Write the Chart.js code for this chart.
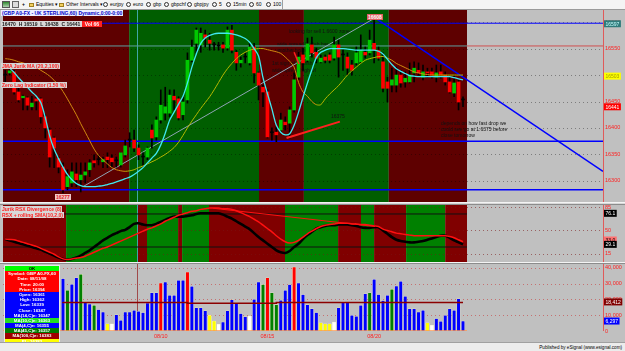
<!DOCTYPE html>
<html>
<head>
<meta charset="utf-8">
<script src="https://cdn.jsdelivr.net/npm/chart.js@4.4.1/dist/chart.umd.min.js"></script>
<style>
html,body{margin:0;padding:0;}
body{width:625px;height:351px;overflow:hidden;background:#c0c0c0;position:relative;font-family:"Liberation Sans",Arial,sans-serif;}
canvas{position:absolute;display:block;}
.a{position:absolute;white-space:nowrap;}
#tb{left:0;top:0;width:625px;height:10px;background:#f4f4f4;border-bottom:1px solid #9a9a9a;box-sizing:border-box;}
#tb span{position:absolute;top:0;font-size:5px;line-height:9px;color:#000;}
#tb i{position:absolute;display:block;box-sizing:border-box;}
#tb i.c{top:2px;width:5px;height:5px;border:1px solid #333;border-radius:50%;}
#tb i.f{top:2.5px;width:5px;height:4px;background:#f2d060;border:1px solid #a08020;}
.sep{left:0;width:625px;background:#d8d8d8;border-top:1px solid #f4f4f4;border-bottom:1px solid #8c8c8c;box-sizing:border-box;}
.lbl{font-size:5px;line-height:6px;padding:0 1px;font-weight:bold;}
#info{left:4px;top:265px;width:54px;border:1px solid #e8e8e8;background:#c0c0c0;}
#info div{height:5.2px;line-height:5.2px;font-size:4.4px;font-weight:bold;text-align:center;color:#fff;overflow:hidden;}
#foot{left:0;top:342px;width:625px;height:9px;background:#ececec;border-top:1px solid #a0a0a0;box-sizing:border-box;}
</style>
</head>
<body>
<div id="tb" class="a">
  <i style="left:2px;top:1px;width:8px;height:7px;background:linear-gradient(#2f8a2f,#b0d0b0);border:1px solid #555;"></i>
  <i style="left:12px;top:1px;width:7px;height:7px;border:1px solid #666;background:#ddd;"></i>
  <span style="left:22px;font-weight:bold;">+</span>
  <i class="f" style="left:29px;"></i><span style="left:36px;">Equities ▾</span>
  <i class="f" style="left:59px;"></i><span style="left:66px;">Other Intervals ▾</span>
  <i class="c" style="left:103px;"></i><span style="left:110px;">eurjpy</span>
  <i class="c" style="left:126px;"></i><span style="left:133px;">euro</span>
  <i class="c" style="left:146px;"></i><span style="left:153px;">gbp</span>
  <i class="c" style="left:164px;"></i><span style="left:171px;">gbpchf</span>
  <i class="c" style="left:187px;"></i><span style="left:194px;">gbpjpy</span>
  <i class="c" style="left:212px;"></i><span style="left:219px;">5</span>
  <i class="c" style="left:226px;"></i><span style="left:233px;">15min</span>
  <i class="c" style="left:249px;"></i><span style="left:256px;">60</span>
  <i class="c" style="left:266px;"></i><span style="left:273px;">100</span>
  <i style="left:282px;top:0;width:1px;height:9px;background:#a0a0a0;"></i>
</div>

<canvas id="cPrice" width="622" height="192" style="left:3px;top:10px;"></canvas>
<div class="a sep" style="top:202px;height:3px;"></div>
<canvas id="cRsx" width="622" height="57" style="left:3px;top:205px;"></canvas>
<div class="a sep" style="top:262px;height:2px;"></div>
<canvas id="cVol" width="622" height="78" style="left:3px;top:264px;"></canvas>

<div class="a lbl" style="left:1px;top:10px;color:#0000c8;background:#eef0ff;">(GBP A0-FX - UK STERLING,60) Dynamic,0:00-0:00</div>
<div class="a lbl" style="left:1px;top:21px;color:#202020;background:#d8d8d8;padding-right:0;">16470&nbsp; H 16519&nbsp; L 16438&nbsp; C 16441 <span style="background:#ff2020;color:#fff;padding:0 3px;">Vol 66</span></div>
<div class="a lbl" style="left:1px;top:63px;color:#ff2020;background:#d4d4d4;">JMA Jurik MA (20,2,100)</div>
<div class="a lbl" style="left:1px;top:82px;color:#ff2020;background:#d4d4d4;">Zero Lag Indicator (1.50 %)</div>
<div class="a lbl" style="left:367px;top:14px;color:#fff;background:#e06060;">16608</div>
<div class="a lbl" style="left:55px;top:194px;color:#e02020;background:#f0c8c8;">16277</div>
<div class="a lbl" style="left:1px;top:206px;color:#ff2020;background:#d8d8d8;">Jurik RSX Divergence (8)</div>
<div class="a lbl" style="left:1px;top:212px;color:#ff2020;background:#d8d8d8;">RSX + rolling SMA(10,2,0)</div>

<div id="info" class="a"></div>
<div id="foot" class="a"><span class="a" style="right:3px;top:1px;font-size:4.6px;line-height:7px;color:#000;">Published by eSignal (www.esignal.com)</span></div>

<script>
// ---------------- DATA ----------------
const priceTicks = [16300, 16350, 16400, 16450, 16500, 16550, 16600];
const rsxTicks = [15, 50, 85];
const volTicks = [0, 10000, 20000, 30000, 40000];
const dateTickIdx = [35, 59, 83];
const dateLabels = ['08/10', '08/15', '08/20'];

const openP = [16500,16504,16506,16468,16457,16457,16440,16455,16455,16421,
16396,16381,16342,16326,16289,16296,16313,16302,16311,16321,
16338,16340,16336,16345,16343,16338,16330,16349,16377,16377,
16362,16345,16345,16396,16383,16415,16428,16428,16460,16455,
16425,16453,16528,16560,16557,16576,16566,16557,16555,16557,
16551,16585,16543,16523,16534,16523,16553,16504,16477,16468,
16391,16392,16396,16411,16409,16434,16496,16538,16528,16557,
16543,16525,16534,16538,16532,16557,16538,16534,16519,16523,
16525,16543,16542,16560,16547,16525,16487,16481,16481,16500,
16487,16487,16504,16509,16496,16506,16506,16496,16506,16500,
16487,16466,16487,16453];
const highP = [16509,16515,16509,16481,16462,16459,16460,16459,16457,16425,
16400,16383,16345,16334,16321,16334,16334,16334,16334,16340,
16349,16349,16345,16353,16349,16345,16353,16377,16391,16396,
16368,16353,16364,16406,16421,16472,16477,16472,16472,16459,
16459,16542,16566,16589,16589,16585,16579,16562,16562,16562,
16591,16594,16547,16534,16542,16560,16560,16506,16481,16472,
16400,16402,16428,16421,16440,16504,16543,16551,16570,16572,
16551,16538,16538,16542,16572,16566,16547,16542,16528,16553,
16576,16553,16585,16608,16553,16542,16496,16513,16515,16509,
16506,16523,16525,16523,16519,16513,16513,16519,16519,16506,
16496,16500,16491,16459];
const lowP = [16485,16500,16464,16449,16434,16434,16434,16434,16409,16381,
16326,16325,16315,16277,16283,16289,16289,16279,16296,16308,
16326,16330,16325,16325,16325,16326,16326,16345,16364,16355,
16340,16326,16340,16362,16377,16409,16415,16421,16434,16415,
16415,16447,16525,16542,16543,16553,16547,16547,16547,16543,
16547,16542,16509,16515,16523,16519,16485,16453,16440,16381,
16377,16374,16391,16396,16381,16430,16491,16509,16525,16534,
16523,16523,16523,16523,16528,16496,16509,16500,16500,16519,
16523,16532,16538,16523,16528,16468,16449,16468,16468,16477,
16477,16485,16487,16500,16491,16496,16494,16487,16494,16481,
16466,16459,16434,16440];
const closeP = [16500,16508,16468,16453,16460,16443,16447,16451,16421,16400,
16345,16362,16326,16283,16308,16317,16302,16311,16317,16334,
16334,16340,16340,16340,16336,16338,16353,16366,16377,16362,
16349,16345,16362,16381,16415,16443,16440,16462,16453,16419,
16449,16528,16553,16585,16579,16570,16560,16557,16555,16551,
16585,16547,16523,16528,16534,16553,16504,16481,16468,16383,
16391,16387,16415,16406,16434,16491,16534,16523,16559,16542,
16532,16532,16528,16528,16557,16534,16538,16513,16509,16542,
16547,16538,16566,16547,16532,16475,16475,16491,16500,16485,
16494,16500,16513,16504,16506,16504,16500,16504,16500,16487,
16468,16485,16449,16453];

const jmaMA = [16517,16513,16505,16495,16486,16477,16468,16460,16448,16420,
16385,16360,16342,16326,16312,16302,16295,16291,16289,16289,
16289,16290,16291,16293,16295,16298,16301,16304,16307,16312,
16318,16325,16334,16343,16352,16368,16390,16415,16430,16445,
16460,16485,16515,16540,16560,16570,16575,16578,16579,16579,
16579,16578,16576,16573,16569,16562,16550,16536,16495,16465,
16436,16405,16392,16387,16389,16405,16430,16458,16485,16510,
16533,16543,16547,16550,16550,16550,16550,16549,16548,16547,
16547,16547,16547,16547,16545,16540,16530,16520,16512,16507,
16503,16499,16498,16497,16497,16497,16497,16497,16497,16497,
16497,16495,16493,16491];
const zeroLagMA = [16531,16530,16528,16525,16523,16520,16517,16514,16509,16504,
16498,16490,16481,16469,16455,16440,16425,16408,16392,16376,
16360,16348,16340,16332,16325,16321,16319,16318,16319,16321,
16325,16328,16332,16336,16340,16345,16350,16356,16363,16373,
16386,16400,16413,16425,16437,16448,16459,16472,16486,16500,
16512,16522,16531,16538,16543,16547,16549,16550,16550,16548,
16546,16544,16541,16534,16526,16515,16486,16468,16460,16450,
16444,16444,16455,16464,16472,16480,16490,16500,16508,16515,
16522,16528,16531,16533,16535,16535,16532,16528,16522,16518,
16514,16510,16506,16504,16502,16501,16500,16500,16500,16500,
16500,16500,16500,16500];

const hLevelTop = 16598, hLevelTeal = 16555, hLevelMid = 16375, hLevelLow = 16283;
const trendUp = [[17.5, 16289], [83.2, 16608]];
const trendDown = [[83.2, 16608], [134.5, 16318]];
const arrowLong = [[63.3, 16381], [75.3, 16412]];
const arrowShort = [[65.0, 16543], [66.1, 16521]];

const rsxLine = [37,35,33,31,29,27,25,23,21,18,
15,12,9,7,6,7,9,12,16,20,
25,30,35,39,43,46,49,51,55,60,
61,59,58,58,60,63,66,69,71,71,
71,72,73,75,76,76,76,76,76,74,
71,68,64,60,56,52,46,40,35,30,
25,20,17,16,19,25,30,37,43,48,
53,55,57,58,58,59,59,59,58,57,
55,54,54,55,55,50,45,40,36,34,
33,32,32,33,34,36,38,40,42,42,
39,35,32,29];
const rsxSMA = [37,36.5,36,34,32,30,28,26,23,20,
17,14,10,7,6,7,8,9,11,14,
17,20,23,25,28,31,34,37,40,43,
46,49,52,54,57,60,64,67,70,73,
75,77,79,80,82,83,84,84,84,83,
83,82,80,77,74,71,67,63,58,53,
48,42,37,33,31,32,35,40,45,49,
53,56,58,59,60,61,61,61,60,60,
59,59,58,57,56,52,50,48,46,45,
44,43,42,42,42,42,42,42,42,42,
41,39,36,33];
const rsxDivergence = [[46.8, 83.7], [83.2, 56]];
const rsxLevels = [25, 75];

const volume = [null,null,null,null,null,null,null,null,null,null,
null,null,null,33100,25800,29600,33700,35900,18400,17000,
16300,13500,12000,4600,4600,10300,6800,12000,12000,13100,
12500,11600,17700,24100,24100,30400,31000,22600,22600,32100,
32100,37300,28300,14600,14700,12700,9900,6300,4200,5700,
12700,19800,17900,11000,8900,9500,20100,31000,29300,33700,
24100,16600,19400,25800,29300,40500,30400,23000,16600,14100,
11600,5100,4600,4600,5700,14700,18400,17900,9900,9300,
16300,23600,24200,32700,23000,19200,22600,26400,28500,31500,
22000,14100,14100,12000,13100,5100,3600,7800,6100,9900,
14100,13100,20400,6300];
// one letter per bar, bars 13..103 (b blue, g green, r red, y yellow, w white)
const volColorFirst = 13;
const volColor = ('bgbbgbbgbb' + 'ywbbbbbbbb' + 'bbrbbbbbrb' + 'bbbyywbbbb' + 'bbwbbgrggb' +
                  'bbrbbbbbyy' + 'ywbbbbbbbg' + 'bbbbgbbbbb' + 'bbywbbbbbbb').split('');
const volMAIdx = [13, 41, 61, 81, 103];
const volMAVal = [18400, 18000, 17600, 18000, 18000];

const mainBandEdges = [-0.5, 27.9, 57.1, 67.2, 86.3, 103.9];
const rsxBandEdges = [-0.5, 13.7, 29.65, 31.9, 38.9, 39.8, 45.85, 62.95, 74.9, 80.05, 83.0, 90.2, 99.0, 103.9];
const cursorIdx = 29.65;

const infoRows = [
 ['OK','#00ff00','#000'],['Symbol: GBP A0-FX,60','#ff0000','#fff'],['Date: 08/11/08','#ff0000','#fff'],
 ['Time: 20:00','#ff0000','#fff'],['Price: 16394','#ff0000','#fff'],['Open: 16361','#0000ff','#fff'],
 ['High: 16362','#0000ff','#fff'],['Low: 16339','#0000ff','#fff'],['Close: 16347','#0000ff','#fff'],
 ['MA(14,C)e: 16347','#0000ff','#fff'],['MA(10,C)e: 16363','#22dd22','#fff'],['MA(4,C)e: 16355','#0000ff','#fff'],
 ['MA(45,C)e: 16357','#007a00','#fff'],['MA(100,C)e: 16383','#a00000','#fff'],['PL: 16383','#ffff00','#fff']
];

// ---------------- HELPERS ----------------
document.getElementById('info').innerHTML = infoRows.map(r =>
  `<div style="background:${r[1]};color:${r[2]}">${r[0]}</div>`).join('');

Chart.defaults.font.family = '"Liberation Sans", Arial, sans-serif';
const pts = arr => arr.map((v, i) => ({x: i, y: v})).filter(p => p.y != null);
const seg = arr => arr.map(([x, y]) => ({x, y}));
const hline = (v, a, b) => [{x: a, y: v}, {x: b, y: v}];
const lineDs = (data, color, width, order, extra) => Object.assign({
  type: 'line', data, borderColor: color, borderWidth: width, pointRadius: 0,
  fill: false, tension: 0, order
}, extra || {});

function panelPlugin(o) {
  return {
    id: 'panel' + o.name,
    beforeDatasetsDraw(chart) {
      const {ctx, chartArea: a, scales: {x, y}} = chart;
      ctx.save();
      ctx.fillStyle = '#c0c0c0';
      ctx.fillRect(a.left, a.top, a.width, a.height);
      if (o.edges) for (let k = 0; k < o.edges.length - 1; k++) {
        const x1 = x.getPixelForValue(o.edges[k]), x2 = x.getPixelForValue(o.edges[k + 1]);
        ctx.fillStyle = o.colors[k % 2];
        ctx.fillRect(x1, a.top, x2 - x1, a.height);
      }
      ctx.strokeStyle = o.grid; ctx.lineWidth = 1; ctx.setLineDash([1, 3]);
      o.ticks.forEach(v => {
        const yy = Math.round(y.getPixelForValue(v)) + 0.5;
        ctx.beginPath(); ctx.moveTo(a.left, yy); ctx.lineTo(a.right, yy); ctx.stroke();
      });
      ctx.setLineDash([]);
      const cx = Math.round(x.getPixelForValue(cursorIdx)) + 0.5;
      ctx.strokeStyle = o.cursor;
      ctx.beginPath(); ctx.moveTo(cx, a.top); ctx.lineTo(cx, a.bottom); ctx.stroke();
      (o.notes || []).forEach(n => {
        ctx.font = '5px "Liberation Sans", Arial'; ctx.fillStyle = n.c || '#111'; ctx.textBaseline = 'top';
        ctx.fillText(n.t, n.x - 3, n.y - o.top);
      });
      ctx.restore();
    },
    afterDraw(chart) {
      const {ctx, chartArea: a, scales: {y}} = chart;
      ctx.save();
      ctx.strokeStyle = '#e05a5a'; ctx.lineWidth = 1;
      ctx.beginPath(); ctx.moveTo(a.right + 0.5, a.top); ctx.lineTo(a.right + 0.5, a.bottom); ctx.stroke();
      ctx.font = '5px "Liberation Sans", Arial'; ctx.textBaseline = 'middle';
      (o.boxes || []).forEach(b => {
        const yy = y.getPixelForValue(b.v), w = ctx.measureText(b.t).width + 3;
        ctx.fillStyle = b.bg; ctx.fillRect(a.right + 1, yy - 3.5, w, 7);
        ctx.fillStyle = b.fg; ctx.fillText(b.t, a.right + 2.5, yy + 0.5);
      });
      ctx.restore();
    }
  };
}

const xHidden = {type: 'linear', min: -0.5, max: 134.5, display: false, offset: false};
function yAxis(min, max, ticks, fmt) {
  return {
    position: 'right', min, max,
    afterBuildTicks: s => { s.ticks = ticks.map(v => ({value: v})); },
    afterFit: s => { s.width = 22; s.paddingTop = 0; s.paddingBottom = 0; },
    grid: {display: false, drawTicks: false}, border: {display: false},
    ticks: {color: '#ff2020', font: {size: 5.5}, padding: 2, callback: fmt}
  };
}
const baseOpts = {
  responsive: false, animation: false, devicePixelRatio: 1,
  layout: {padding: 0, autoPadding: false},
  plugins: {legend: {display: false}, tooltip: {enabled: false}}
};

// ---------------- PRICE PANEL ----------------
const bodyColors = openP.map((o, i) => closeP[i] > o ? '#00c800' : (closeP[i] < o ? '#ff0000' : '#000000'));
new Chart(document.getElementById('cPrice'), {
  type: 'bar',
  data: {datasets: [
    lineDs(seg(arrowLong), '#ff2020', 2, 0),
    lineDs(seg(arrowShort), '#ff2020', 1.5, 0),
    lineDs(pts(jmaMA), '#40e8f0', 1.3, 1, {tension: 0.3}),
    lineDs(pts(zeroLagMA), '#d08a10', 1, 1, {tension: 0.3, segment: {
      borderColor: c => c.p1.parsed.y >= c.p0.parsed.y ? '#b4b800' : '#d08a10'}}),
    {type: 'bar', data: openP.map((o, i) => ({x: i, y: [o, closeP[i]]})), backgroundColor: bodyColors,
     barThickness: 3, minBarLength: 1, grouped: false, order: 2},
    {type: 'bar', data: lowP.map((l, i) => ({x: i, y: [l, highP[i]]})), backgroundColor: '#000',
     barThickness: 1, grouped: false, order: 3},
    lineDs(seg(trendUp), '#8ea4b4', 1, 4),
    lineDs(seg(trendDown), '#0000ff', 1.5, 4),
    lineDs(hline(hLevelTop, -0.5, 134.5), '#0000ff', 1, 5),
    lineDs(hline(hLevelTeal, -0.5, 103.9), '#5f9f9f', 1, 5),
    lineDs(hline(hLevelTeal, 103.9, 134.5), '#d05050', 1, 5),
    lineDs(hline(hLevelMid, -0.5, 134.5), '#0000ff', 1.5, 5),
    lineDs(hline(hLevelLow, -0.5, 134.5), '#0000ff', 1.5, 5)
  ]},
  options: Object.assign({}, baseOpts, {scales: {
    x: xHidden,
    y: yAxis(16260, 16623, priceTicks, v => String(v))
  }}),
  plugins: [panelPlugin({
    name: 'p', top: 10, edges: mainBandEdges, colors: ['#5e0000', '#005e00'],
    ticks: priceTicks, grid: 'rgba(0,0,0,0.35)', cursor: '#3fa6a6',
    notes: [
      {t: 'looking for sell 1.6600 zone', x: 289, y: 29},
      {t: 'wide spread bullish bar', x: 277, y: 42},
      {t: 'another bullish bar', x: 277, y: 48},
      {t: '1st sign of bearish', x: 272, y: 61},
      {t: 'wide spread high lvl', x: 272, y: 68},
      {t: '16375', x: 331, y: 114},
      {t: 'depends on how fast drop we', x: 441, y: 121},
      {t: 'could see go at 1.6375 before', x: 441, y: 127},
      {t: 'close tomorrow', x: 441, y: 133}
    ],
    boxes: [
      {v: 16597, t: '16597', bg: '#2e7b7b', fg: '#c8ffff'},
      {v: 16498, t: '16503', bg: '#ffff00', fg: '#a0a000'},
      {v: 16440, t: '16441', bg: '#ff0000', fg: '#ffffff'}
    ]
  })]
});

// ---------------- RSX PANEL ----------------
new Chart(document.getElementById('cRsx'), {
  type: 'line',
  data: {datasets: [
    lineDs(pts(rsxSMA), '#ff1010', 1.5, 0, {tension: 0.3}),
    lineDs(seg(rsxDivergence), '#ff1010', 1, 0),
    lineDs(pts(rsxLine), '#000000', 2.6, 1, {tension: 0.3}),
    lineDs(hline(rsxLevels[0], -0.5, 103.9), '#101010', 1, 2),
    lineDs(hline(rsxLevels[1], -0.5, 103.9), '#101010', 1, 2)
  ]},
  options: Object.assign({}, baseOpts, {scales: {
    x: xHidden,
    y: yAxis(2.3, 88.6, rsxTicks, v => String(v))
  }}),
  plugins: [panelPlugin({
    name: 'r', top: 205, edges: rsxBandEdges, colors: ['#800000', '#008000'],
    ticks: rsxTicks, grid: 'rgba(120,20,20,0.55)', cursor: '#3fa6a6',
    boxes: [
      {v: 76, t: '76.1', bg: '#000', fg: '#fff'},
      {v: 35.6, t: '33.0', bg: '#ff7070', fg: '#000'},
      {v: 29, t: '29.1', bg: '#000', fg: '#fff'}
    ]
  })]
});

// ---------------- VOLUME PANEL ----------------
const volPalette = {b: '#0000ff', g: '#008000', r: '#ff0000', y: '#ffff00', w: '#ffffff'};
const volColors = volume.map((v, i) => volPalette[volColor[i - volColorFirst]] || '#0000ff');
new Chart(document.getElementById('cVol'), {
  type: 'bar',
  data: {datasets: [
    lineDs(hline(0, -0.5, 103.9), '#ff9a50', 1.5, 0),
    lineDs(volMAIdx.map((x, k) => ({x, y: volMAVal[k]})), '#8b0000', 1.5, 0, {stepped: 'after'}),
    {type: 'bar', data: volume.map((v, i) => ({x: i, y: v})), backgroundColor: volColors,
     borderColor: 'rgba(255,255,210,0.8)', borderWidth: 0.5, barThickness: 3.4, grouped: false, order: 1}
  ]},
  options: Object.assign({}, baseOpts, {scales: {
    x: {
      type: 'linear', min: -0.5, max: 134.5, offset: false, position: 'bottom',
      afterBuildTicks: s => { s.ticks = dateTickIdx.map(v => ({value: v})); },
      afterFit: s => { s.height = 11; s.paddingLeft = 0; s.paddingRight = 0; },
      grid: {display: false, drawTicks: false}, border: {display: false},
      ticks: {color: '#ff2020', font: {size: 5.5}, padding: 2, autoSkip: false, maxRotation: 0,
        callback: v => { const k = dateTickIdx.indexOf(v); return k >= 0 ? dateLabels[k] : ''; }}
    },
    y: yAxis(0, 42400, volTicks, v => v.toLocaleString('en-US'))
  }}),
  plugins: [panelPlugin({
    name: 'v', top: 264, ticks: volTicks.slice(1), grid: 'rgba(200,60,60,0.6)', cursor: '#a04a4a',
    boxes: [
      {v: 18400, t: '18,412', bg: '#800000', fg: '#fff'},
      {v: 6300, t: '6,297', bg: '#0000ff', fg: '#fff'}
    ]
  })]
});
</script>
</body>
</html>
